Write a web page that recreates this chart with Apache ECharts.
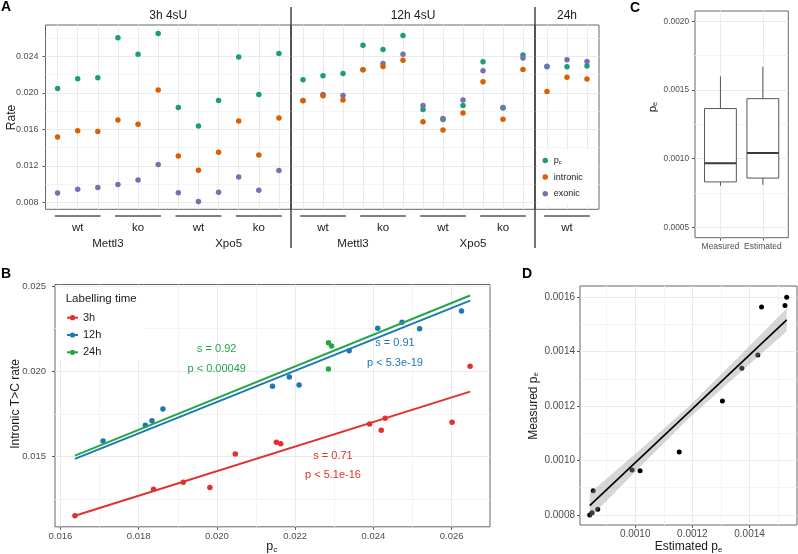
<!DOCTYPE html>
<html><head><meta charset="utf-8">
<script src="https://cdn.jsdelivr.net/npm/echarts@6/dist/echarts.min.js"></script>
<style>html,body{margin:0;padding:0;background:#fff}#c{width:798px;height:554px}</style>
</head><body><div id="c"></div>
<script>
// ================= DATA =================
// Panel A: facets, groups
const facetTitles = ['3h 4sU', '12h 4sU', '24h'];
const facetGenes = [['Mettl3', 'Xpo5'], ['Mettl3', 'Xpo5'], []];
const facetGenotypes = [['wt', 'ko', 'wt', 'ko'], ['wt', 'ko', 'wt', 'ko'], ['wt']];
// 3h 4sU (12 samples)
const p0_3h       = [0.02047, 0.02152, 0.02163, 0.02601, 0.02420, 0.02647, 0.01838, 0.01637, 0.01914, 0.02390, 0.01982, 0.02430];
const intronic_3h = [0.01516, 0.01584, 0.01576, 0.01702, 0.01655, 0.02030, 0.01309, 0.01154, 0.01350, 0.01692, 0.01320, 0.01725];
const exonic_3h   = [0.00905, 0.00945, 0.00964, 0.00997, 0.01047, 0.01215, 0.00909, 0.00811, 0.00913, 0.01080, 0.00934, 0.01150];
// 12h 4sU (12 samples)
const p0_12h       = [0.02142, 0.02185, 0.02210, 0.02518, 0.02473, 0.02625, 0.01817, 0.01709, 0.01862, 0.02338, 0.01834, 0.02411];
const intronic_12h = [0.01913, 0.01967, 0.01920, 0.02250, 0.02288, 0.02354, 0.01684, 0.01592, 0.01780, 0.02121, 0.01711, 0.02253];
const exonic_12h   = [0.01915, 0.01980, 0.01970, 0.02250, 0.02320, 0.02420, 0.01860, 0.01720, 0.01920, 0.02240, 0.01840, 0.02380];
// 24h (3 samples)
const p0_24h       = [0.02285, 0.02285, 0.02293];
const intronic_24h = [0.02014, 0.02168, 0.02149];
const exonic_24h   = [0.02290, 0.02360, 0.02340];
const yTicksA = [0.008, 0.012, 0.016, 0.020, 0.024];
const yMinorA = [0.010, 0.014, 0.018, 0.022, 0.026];

// Panel B: regression lines and labels
const groupsB = ['3h', '12h', '24h'];
const fitX_B = [0.01637, 0.02647];
const fit3h_B = [0.01154, 0.01881];
const fit12h_B = [0.01487, 0.02414];
const fit24h_B = [0.01506, 0.02444];
const slopeLabels = ['s = 0.71', 's = 0.91', 's = 0.92'];
const pLabels = ['p < 5.1e-16', 'p < 5.3e-19', 'p < 0.00049'];
const xTicksB = [0.016, 0.018, 0.020, 0.022, 0.024, 0.026];
const xMinorB = [0.017, 0.019, 0.021, 0.023, 0.025];
const yTicksB = [0.015, 0.020, 0.025];
const yMinorB = [0.0125, 0.0175, 0.0225];

// Panel C: boxplot stats [min, q1, median, q3, max]
const boxCats = ['Measured', 'Estimated'];
const boxMeasured = [0.000802, 0.000831, 0.000967, 0.001365, 0.001600];
const boxEstimated = [0.000810, 0.000859, 0.001041, 0.001437, 0.001669];
const yTicksC = [0.0005, 0.0010, 0.0015, 0.0020];
const yMinorC = [0.00075, 0.00125, 0.00175];

// Panel D: scatter + fit
const estD = [0.000841, 0.000849, 0.000853, 0.000869, 0.000989, 0.001017, 0.001154, 0.001305, 0.001373, 0.001429, 0.001442, 0.001524, 0.001530];
const measD = [0.000800, 0.000808, 0.000889, 0.000821, 0.000965, 0.000962, 0.001031, 0.001219, 0.001339, 0.001388, 0.001564, 0.001570, 0.001600];
const fitX_D = [0.000841, 0.001530];
const fitY_D = [0.000834, 0.001517];
const bandX_D  = [0.000841, 0.001014, 0.001186, 0.001359, 0.001530];
const bandLo_D = [0.000789, 0.000973, 0.001154, 0.001316, 0.001475];
const bandHi_D = [0.000880, 0.001037, 0.001198, 0.001378, 0.001560];
const xTicksD = [0.0010, 0.0012, 0.0014];
const xMinorD = [0.0009, 0.0011, 0.0013, 0.0015];
const yTicksD = [0.0008, 0.0010, 0.0012, 0.0014, 0.0016];
const yMinorD = [0.0009, 0.0011, 0.0013, 0.0015];

// ================= STYLE =================
const FONT = '"Liberation Sans", Arial, Helvetica, sans-serif';
const COL_A = { pc: '#1b9e77', intronic: '#d95f02', exonic: '#7570b3' };
const COL_B = { '3h': '#e2312d', '12h': '#1f78b4', '24h': '#23a64a' };
const BORDER = '#666666';
const LABEL = '#4d4d4d';
const TITLE = '#1a1a1a';

const grids = [
  { left: 45.5, top: 25, width: 245.5, height: 184.3 },
  { left: 291, top: 25, width: 244, height: 184.3 },
  { left: 535, top: 25, width: 64, height: 184.3 },
  { left: 55, top: 284.5, width: 435, height: 242.3 },
  { left: 695, top: 11, width: 93.3, height: 226.7 },
  { left: 580, top: 286, width: 217, height: 239 }
].map(g => Object.assign({ show: true, borderColor: BORDER, borderWidth: 1, backgroundColor: 'transparent', containLabel: false }, g));

function valAxis(gi, min, max, step, ticks, fmt, fs, margin, showLab) {
  return {
    type: 'value', gridIndex: gi, min, max, minInterval: step, maxInterval: step, splitNumber: 5,
    axisLine: { show: false },
    splitLine: { show: false },
    axisTick: { show: showLab, length: 3, customValues: ticks, lineStyle: { color: '#333', width: 0.8 } },
    axisLabel: { show: showLab, customValues: ticks, formatter: fmt,
      fontSize: fs, color: LABEL, margin, fontFamily: FONT }
  };
}
function hiddenX(gi, max) {
  return { type: 'value', gridIndex: gi, min: 0.4, max, show: false, splitLine: { show: false } };
}
function gridLines(gi, xMaj, xMin, yMaj, yMin) {
  const maj = { color: '#ebebeb', width: 1, type: 'solid' };
  const mnr = { color: '#f4f4f4', width: 1, type: 'solid' };
  const d = [];
  xMin.forEach(v => d.push({ xAxis: v, lineStyle: mnr }));
  yMin.forEach(v => d.push({ yAxis: v, lineStyle: mnr }));
  xMaj.forEach(v => d.push({ xAxis: v, lineStyle: maj }));
  yMaj.forEach(v => d.push({ yAxis: v, lineStyle: maj }));
  return { type: 'scatter', xAxisIndex: gi, yAxisIndex: gi, data: [], silent: true, z: 1,
    markLine: { silent: true, precision: 12, symbol: ['none', 'none'], animation: false, label: { show: false },
      emphasis: { disabled: true }, lineStyle: { type: 'solid' }, data: d } };
}
const idx = n => Array.from({ length: n }, (_, i) => i + 1);

const fA = v => v.toFixed(3);
const xAxes = [hiddenX(0, 12.6), hiddenX(1, 12.6), hiddenX(2, 3.6),
  valAxis(3, 0.015861, 0.026979, 0.002, xTicksB, v => v.toFixed(3), 9.5, 5, true),
  valAxis(4, 0.4, 2.6, 1, [1, 2], v => boxCats[Math.round(v) - 1] || '', 8.5, 4, true),
  valAxis(5, 0.000807, 0.001566, 0.0002, xTicksD, v => v.toFixed(4), 10, 4.5, true)
];
const yAxes = [
  valAxis(0, 0.00727, 0.0274, 0.004, yTicksA, fA, 9, 7, true),
  valAxis(1, 0.00727, 0.0274, 0.004, yTicksA, fA, 9, 7, false),
  valAxis(2, 0.00727, 0.0274, 0.004, yTicksA, fA, 9, 7, false),
  valAxis(3, 0.010895, 0.025085, 0.005, yTicksB, v => v.toFixed(3), 9.5, 9, true),
  valAxis(4, 0.000425, 0.002075, 0.0005, yTicksC, v => v.toFixed(4), 8.3, 6, true),
  valAxis(5, 0.000763, 0.0016415, 0.0002, yTicksD, v => v.toFixed(4), 10, 5, true)
];

const series = [];
// background grid lines
series.push(gridLines(0, idx(12), [], yTicksA, yMinorA));
series.push(gridLines(1, idx(12), [], yTicksA, yMinorA));
series.push(gridLines(2, idx(3), [], yTicksA, yMinorA));
series.push(gridLines(3, xTicksB, xMinorB, yTicksB, yMinorB));
series.push(gridLines(4, [1, 2], [], yTicksC, yMinorC));
series.push(gridLines(5, xTicksD, xMinorD, yTicksD, yMinorD));

// Panel A points (draw order: p_c, exonic, intronic)
const facetData = [
  { pc: p0_3h, intronic: intronic_3h, exonic: exonic_3h },
  { pc: p0_12h, intronic: intronic_12h, exonic: exonic_12h },
  { pc: p0_24h, intronic: intronic_24h, exonic: exonic_24h }
];
facetData.forEach((fd, f) => {
  ['pc', 'exonic', 'intronic'].forEach(k => {
    series.push({ type: 'scatter', name: k, xAxisIndex: f, yAxisIndex: f, silent: true, z: 10,
      symbolSize: 5.5, itemStyle: { color: COL_A[k], opacity: 1 },
      data: fd[k].map((v, i) => [i + 1, v]) });
  });
});

// Panel B: lines first (for legend icons), then points
const fitsB = { '3h': fit3h_B, '12h': fit12h_B, '24h': fit24h_B };
groupsB.forEach(g => {
  series.push({ type: 'line', name: g, xAxisIndex: 3, yAxisIndex: 3, silent: true, z: 12,
    symbol: 'circle', symbolSize: 5, showSymbol: false,
    lineStyle: { color: COL_B[g], width: 2 }, itemStyle: { color: COL_B[g] },
    data: fitX_B.map((x, i) => [x, fitsB[g][i]]) });
});
const ptsB = { '3h': [p0_3h, intronic_3h], '12h': [p0_12h, intronic_12h], '24h': [p0_24h, intronic_24h] };
groupsB.forEach(g => {
  series.push({ type: 'scatter', name: g, xAxisIndex: 3, yAxisIndex: 3, silent: true, z: 10,
    symbolSize: 5.5, itemStyle: { color: COL_B[g], opacity: 1 },
    data: ptsB[g][0].map((x, i) => [x, ptsB[g][1][i]]) });
});

// Panel C boxplot (custom)
const boxData = [[1].concat(boxMeasured), [2].concat(boxEstimated)];
series.push({ type: 'custom', xAxisIndex: 4, yAxisIndex: 4, silent: true, z: 10, data: boxData,
  renderItem: function (params, api) {
    const x = api.value(0);
    const w = api.size([0.75, 0])[0];
    const pMin = api.coord([x, api.value(1)]);
    const pQ1 = api.coord([x, api.value(2)]);
    const pMed = api.coord([x, api.value(3)]);
    const pQ3 = api.coord([x, api.value(4)]);
    const pMax = api.coord([x, api.value(5)]);
    const st = { stroke: '#444', lineWidth: 0.9, fill: null };
    return { type: 'group', children: [
      { type: 'line', shape: { x1: pMax[0], y1: pMax[1], x2: pQ3[0], y2: pQ3[1] }, style: st },
      { type: 'line', shape: { x1: pQ1[0], y1: pQ1[1], x2: pMin[0], y2: pMin[1] }, style: st },
      { type: 'rect', shape: { x: pQ3[0] - w / 2, y: pQ3[1], width: w, height: pQ1[1] - pQ3[1] },
        style: { stroke: '#444', lineWidth: 0.9, fill: '#fff' } },
      { type: 'line', shape: { x1: pMed[0] - w / 2, y1: pMed[1], x2: pMed[0] + w / 2, y2: pMed[1] },
        style: { stroke: '#3a3a3a', lineWidth: 1.9 } }
    ] };
  } });

// Panel D
series.push({ type: 'scatter', name: 'ptsD', xAxisIndex: 5, yAxisIndex: 5, silent: true, z: 9,
  symbolSize: 5, itemStyle: { color: '#000', opacity: 1 },
  data: estD.map((x, i) => [x, measD[i]]) });
series.push({ type: 'custom', name: 'bandD', xAxisIndex: 5, yAxisIndex: 5, silent: true, z: 10,
  data: bandX_D.map((x, i) => [x, bandLo_D[i], bandHi_D[i]]),
  renderItem: function (params, api) {
    if (params.dataIndexInside !== 0) return null;
    const n = params.dataInsideLength;
    const up = [], lo = [];
    for (let i = 0; i < n; i++) {
      const x = api.value(0, i);
      up.push(api.coord([x, api.value(2, i)]));
      lo.push(api.coord([x, api.value(1, i)]));
    }
    return { type: 'polygon', shape: { points: up.concat(lo.reverse()) },
      style: { fill: 'rgba(153,153,153,0.4)', stroke: null } };
  } });
series.push({ type: 'line', name: 'fitD', xAxisIndex: 5, yAxisIndex: 5, silent: true, z: 11,
  symbol: 'none', lineStyle: { color: '#000', width: 1.6 },
  data: fitX_D.map((x, i) => [x, fitY_D[i]]) });

const option = {
  animation: false,
  backgroundColor: '#fff',
  textStyle: { fontFamily: FONT },
  grid: grids,
  xAxis: xAxes,
  yAxis: yAxes,
  legend: [
    { data: ['pc', 'intronic', 'exonic'], left: 538, top: 150, orient: 'vertical', icon: 'circle',
      itemWidth: 7, itemHeight: 5.5, itemGap: 5.6, padding: [5, 14, 6, 4.5], backgroundColor: '#fff',
      selectedMode: false, z: 20,
      formatter: n => n === 'pc' ? '{p|p}{s|c}' : n,
      textStyle: { fontSize: 9, lineHeight: 11, color: TITLE, fontFamily: FONT,
        rich: { p: { fontSize: 9, lineHeight: 11, fontFamily: FONT, color: TITLE },
                s: { fontSize: 6, lineHeight: 11, padding: [4, 0, 0, 0], fontFamily: FONT, color: TITLE } } } },
    { data: groupsB, left: 58, top: 287, orient: 'vertical',
      itemWidth: 11, itemHeight: 6.5, itemGap: 4.3, padding: [24.2, 42, 1, 8], backgroundColor: '#fff',
      selectedMode: false, z: 20,
      textStyle: { fontSize: 11, lineHeight: 13, color: TITLE, fontFamily: FONT } }
  ],
  series
};

const chart = echarts.init(document.getElementById('c'), null, { renderer: 'canvas', width: 798, height: 554 });
chart.setOption(option);

// ================= ANNOTATIONS (graphic text) =================
const px = (gi, x, y) => chart.convertToPixel({ gridIndex: gi }, [x, y]);
const G = [];
const txt = (x, y, text, o) => G.push(Object.assign({ type: 'text', x, y, silent: true, z: 30,
  style: Object.assign({ text, fontFamily: FONT, fill: TITLE, align: 'center', verticalAlign: 'middle' }, (o && o.style) || {}) },
  o ? { rotation: o.rotation || 0 } : {}));

// panel letters
[['A', 6, 7], ['B', 6, 274], ['C', 635, 8.5], ['D', 527, 274]].forEach(a =>
  txt(a[1], a[2], a[0], { style: { fontSize: 14, fontWeight: 'bold', fill: '#000' } }));

// Panel A strips, separators, group axis
const yMid = 0.015;
facetTitles.forEach((t, f) => {
  const g = grids[f];
  txt(g.left + g.width / 2, 15.5, t, { style: { fontSize: 12 } });
});
[grids[1].left, grids[2].left].forEach(x => G.push({ type: 'line', silent: true, z: 30,
  shape: { x1: x, y1: 7, x2: x, y2: 248 }, style: { stroke: '#3a3a3a', lineWidth: 1.4 } }));
facetGenotypes.forEach((gts, f) => {
  gts.forEach((gt, k) => {
    const a = px(f, k * 3 + 1 - 0.14, yMid)[0];
    const b = px(f, k * 3 + 3 + 0.14, yMid)[0];
    const c = px(f, k * 3 + 2, yMid)[0];
    G.push({ type: 'line', silent: true, z: 30, shape: { x1: a, y1: 216, x2: b, y2: 216 },
      style: { stroke: '#555', lineWidth: 1.5 } });
    txt(c, 227.5, gt, { style: { fontSize: 11.5 } });
  });
  facetGenes[f].forEach((gn, k) => {
    const c = px(f, k * 6 + 3.5, yMid)[0];
    txt(c, 243.5, gn, { style: { fontSize: 11.5 } });
  });
});
txt(11.7, 117.5, 'Rate', { rotation: Math.PI / 2, style: { fontSize: 12 } });

// Panel B titles and annotations
txt(65.7, 299, 'Labelling time', { style: { fontSize: 11.5, align: 'left' } });
txt(15.5, 404, 'Intronic T>C rate', { rotation: Math.PI / 2, style: { fontSize: 12 } });
txt(271.7, 547, '{p|p}{s|c}', { style: { rich: {
  p: { fontSize: 12.5, lineHeight: 13, fontFamily: FONT, fill: TITLE },
  s: { fontSize: 8, lineHeight: 13, padding: [5, 0, 0, 0], fontFamily: FONT, fill: TITLE } } } });
const annPos = [[333, 455.7, 475], [395, 343.3, 363.3], [216.7, 349.3, 369.3]];
groupsB.forEach((g, i) => {
  txt(annPos[i][0], annPos[i][1], slopeLabels[i], { style: { fontSize: 11, fill: COL_B[g] } });
  txt(annPos[i][0], annPos[i][2], pLabels[i], { style: { fontSize: 11, fill: COL_B[g] } });
});

// Panel C / D titles
const richPE = (fs) => ({
  n: { fontSize: fs, lineHeight: fs + 2, fontFamily: FONT, fill: TITLE },
  s: { fontSize: fs * 0.65, lineHeight: fs + 2, padding: [fs * 0.4, 0, 0, 0], fontFamily: FONT, fill: TITLE } });
txt(652.7, 107, '{n|p}{s|e}', { rotation: Math.PI / 2, style: { rich: richPE(11.5) } });
txt(533.3, 406, '{n|Measured p}{s|e}', { rotation: Math.PI / 2, style: { rich: richPE(12) } });
txt(688.5, 547, '{n|Estimated p}{s|e}', { style: { rich: richPE(12) } });

chart.setOption({ graphic: G });
</script>
</body></html>
